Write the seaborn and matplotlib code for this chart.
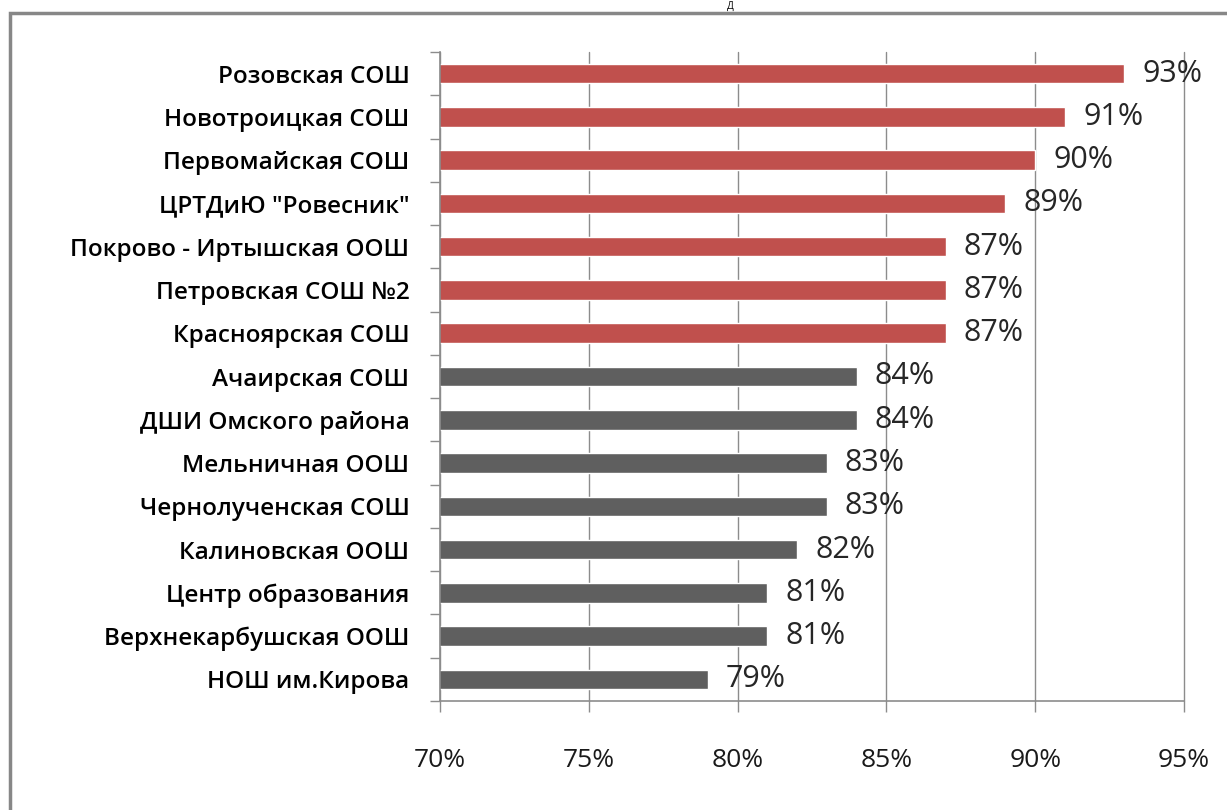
import matplotlib
matplotlib.use("Agg")
import matplotlib.pyplot as plt
import seaborn as sns
import pandas as pd
from matplotlib.patches import Rectangle
from matplotlib.ticker import FuncFormatter, FixedLocator

categories = [
    "Розовская СОШ",
    "Новотроицкая СОШ",
    "Первомайская СОШ",
    'ЦРТДиЮ "Ровесник"',
    "Покрово - Иртышская ООШ",
    "Петровская СОШ №2",
    "Красноярская СОШ",
    "Ачаирская СОШ",
    "ДШИ Омского района",
    "Мельничная ООШ",
    "Чернолученская СОШ",
    "Калиновская ООШ",
    "Центр образования",
    "Верхнекарбушская ООШ",
    "НОШ им.Кирова",
]
values = [93, 91, 90, 89, 87, 87, 87, 84, 84, 83, 83, 82, 81, 81, 79]
groups = ["top"] * 7 + ["rest"] * 8
x_ticks = [70, 75, 80, 85, 90, 95]

df = pd.DataFrame({"school": categories, "value": values, "group": groups})

sns.set_theme(style="white")
plt.rcParams["font.family"] = ["Open Sans", "DejaVu Sans"]

fig = plt.figure(figsize=(12.27, 8.10), dpi=100)
ax = fig.add_axes([440 / 1227, 109 / 810, (1184 - 440) / 1227, (701 - 52) / 810])

sns.barplot(
    data=df, x="value", y="school", hue="group",
    palette={"top": "#C0504D", "rest": "#5F5F5F"},
    dodge=False, width=0.45, orient="h", legend=False, ax=ax,
    saturation=1,
)

ax.set_xlim(70, 95)
ax.set_ylim(len(categories) - 0.5, -0.5)
ax.xaxis.set_major_locator(FixedLocator(x_ticks))
ax.xaxis.set_major_formatter(FuncFormatter(lambda v, p: f"{v:.0f}%"))
ax.set_xlabel("")
ax.set_ylabel("")
ax.grid(axis="x", color="#8C8C8C", linewidth=1.0)
ax.set_axisbelow(True)
for gl in ax.get_xgridlines():
    gl.set_clip_on(False)

for s in ["top", "right"]:
    ax.spines[s].set_visible(False)
for s in ["left", "bottom"]:
    ax.spines[s].set_visible(True)
    ax.spines[s].set_color("#8C8C8C")
    ax.spines[s].set_linewidth(1.2)

ax.tick_params(axis="x", which="major", bottom=True, length=8, width=1.0,
               color="#8C8C8C", pad=26, labelsize=19, labelcolor="#1A1A1A")
ax.tick_params(axis="y", which="major", left=False, length=0, pad=22,
               labelsize=17.5, labelcolor="#000000")
ax.set_yticks([i + 0.5 for i in range(-1, len(categories))], minor=True)
ax.tick_params(axis="y", which="minor", left=True, length=7, width=1.0,
               color="#8C8C8C")
for lab in ax.get_yticklabels():
    lab.set_fontweight("semibold")

for cont in ax.containers:
    ax.bar_label(cont, labels=[f"{v:.0f}%" for v in cont.datavalues],
                 padding=13, fontsize=22, color="#262626")

fig.add_artist(Rectangle((10 / 1227, -0.1), 1.2, (810 - 13) / 810 + 0.1,
                         transform=fig.transFigure, fill=False,
                         edgecolor="#878787", linewidth=2.5))
fig.text(730 / 1227, 0.999, "Д", ha="center", va="top", fontsize=7,
         color="#000000")

fig.savefig("out.png", dpi=100)
